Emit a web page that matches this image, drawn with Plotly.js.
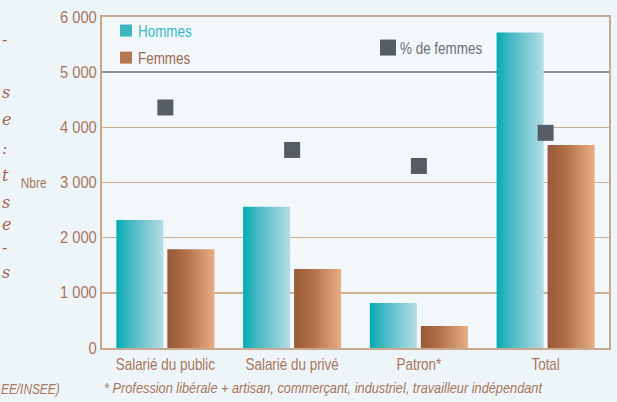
<!DOCTYPE html>
<html>
<head>
<meta charset="utf-8">
<script src="https://cdn.plot.ly/plotly-3.0.1.min.js"></script>
<style>
html,body{margin:0;padding:0;background:#eef5f8;}
#chart{width:617px;height:402px;}
</style>
</head>
<body>
<div id="chart"></div>
<script>
// ---- data ----
const categories = ['Salarié du public', 'Salarié du privé', 'Patron*', 'Total'];
const hommes = [2320, 2560, 815, 5720];
const femmes = [1790, 1430, 400, 3680];
const pctFemmes = [43.6, 35.9, 33.0, 39.0];
const yTickVals = [0, 1000, 2000, 3000, 4000, 5000, 6000];
const yTickText = ['0', '1 000', '2 000', '3 000', '4 000', '5 000', '6 000'];
const leftFragments = ['-', 's', 'e', ':', 't', 's', 'e', '-', 's'];
const leftFragmentY = [40, 93, 120, 148, 175, 202, 224, 247, 272];

const FONT = '"Liberation Sans", Arial, sans-serif';
const BROWN = '#a8765c';
const TEAL = '#35b8c4';
const GRAY = '#6b7178';

const plotTop = 17, plotBottom = 348, plotLeft = 102, plotRight = 609;
const plotH = plotBottom - plotTop, plotW = plotRight - plotLeft;
const px2x = p => (p - plotLeft) / plotW;
const px2y = p => (plotBottom - p) / plotH;

const data = [
  {
    type: 'bar', name: '<span style="color:' + TEAL + '">Hommes</span>',
    x: categories, y: hommes, marker: {color: '#3db6c0'},
    legend: 'legend', legendgroup: 'h'
  },
  {
    type: 'bar', name: '<span style="color:#9c6a52">Femmes</span>',
    x: categories, y: femmes, marker: {color: '#b77750'},
    legend: 'legend', legendgroup: 'f'
  },
  {
    type: 'scatter', mode: 'markers', name: '<span style="color:' + GRAY + '">% de femmes</span>',
    x: categories, y: pctFemmes, yaxis: 'y2',
    marker: {symbol: 'square', size: 16, color: '#565d64'},
    legend: 'legend2'
  }
];

const annotations = [
  {xref: 'paper', yref: 'y', x: px2x(48), y: 3000, xanchor: 'right', align: 'right', yanchor: 'middle',
   text: 'Nbre', showarrow: false, borderpad: 0, font: {family: FONT, size: 15, color: BROWN}},
  {xref: 'paper', yref: 'paper', x: px2x(103), y: px2y(388), xanchor: 'left', align: 'left', yanchor: 'middle',
   text: '* Profession libérale + artisan, commerçant, industriel, travailleur indépendant',
   showarrow: false, borderpad: 0, font: {family: FONT, size: 14.5, color: BROWN, style: 'italic'}},
  {xref: 'paper', yref: 'paper', x: px2x(0), y: px2y(388), xanchor: 'left', align: 'left', yanchor: 'middle',
   text: 'EE/INSEE)', showarrow: false, borderpad: 0, font: {family: FONT, size: 15, color: BROWN, style: 'italic'}}
];
leftFragments.forEach((t, i) => {
  annotations.push({xref: 'paper', yref: 'paper', x: px2x(1), y: px2y(leftFragmentY[i]),
    xanchor: 'left', yanchor: 'middle', text: t, showarrow: false, borderpad: 0,
    font: {family: '"DejaVu Serif", serif', size: 16, color: '#a0654a', style: 'italic'}});
});

const layout = {
  width: 617, height: 402,
  margin: {l: plotLeft, r: 617 - plotRight, t: plotTop, b: 402 - plotBottom, pad: 0},
  paper_bgcolor: '#eef5f8', plot_bgcolor: '#f2f8fa',
  font: {family: FONT, size: 16, color: BROWN},
  barmode: 'group', bargap: 0.195, bargroupgap: 0.078,
  xaxis: {
    showgrid: false, showline: true, linecolor: '#c9a98d', linewidth: 2, mirror: true,
    ticks: '', tickfont: {family: FONT, size: 17, color: BROWN}, fixedrange: true
  },
  yaxis: {
    range: [0, 6000], tickvals: yTickVals, ticktext: yTickText,
    showgrid: true, gridcolor: '#cfae90', gridwidth: 1.5,
    zeroline: false, showline: true, linecolor: '#c9a98d', linewidth: 2, mirror: true,
    ticks: '', ticklabelstandoff: 0,
    tickfont: {family: FONT, size: 16, color: BROWN}, fixedrange: true
  },
  yaxis2: {
    range: [0, 60], overlaying: 'y', side: 'right', fixedrange: true,
    showticklabels: false, ticks: '', showline: false, zeroline: false,
    tickvals: [50], showgrid: true, gridcolor: '#8795a0', gridwidth: 1.6
  },
  legend: {
    x: px2x(98), y: px2y(13), xanchor: 'left', yanchor: 'top',
    bgcolor: 'rgba(0,0,0,0)', font: {family: FONT, size: 17},
    traceorder: 'grouped', tracegroupgap: 2
  },
  legend2: {
    x: px2x(360), y: px2y(30), xanchor: 'left', yanchor: 'top',
    bgcolor: 'rgba(0,0,0,0)', font: {family: FONT, size: 17}
  },
  annotations: annotations,
  showlegend: true
};

Plotly.newPlot('chart', data, layout, {staticPlot: true, displayModeBar: false}).then(gd => {
  const ns = 'http://www.w3.org/2000/svg';
  const svg = gd.querySelector('.main-svg');
  let defs = svg.querySelector('defs');
  if (!defs) { defs = document.createElementNS(ns, 'defs'); svg.insertBefore(defs, svg.firstChild); }
  function addGrad(id, stops) {
    const g = document.createElementNS(ns, 'linearGradient');
    g.setAttribute('id', id);
    g.setAttribute('x1', '0'); g.setAttribute('x2', '1');
    g.setAttribute('y1', '0'); g.setAttribute('y2', '0');
    stops.forEach(([o, c]) => {
      const s = document.createElementNS(ns, 'stop');
      s.setAttribute('offset', o); s.setAttribute('stop-color', c);
      g.appendChild(s);
    });
    defs.appendChild(g);
  }
  addGrad('gradH', [['0', '#00acb3'], ['0.25', '#3db6c0'], ['1', '#b6dde7']]);
  addGrad('gradF', [['0', '#995838'], ['0.4', '#b27049'], ['1', '#e9ae83']]);
  const grads = ['url(#gradH)', 'url(#gradF)'];
  gd.querySelectorAll('.barlayer .trace').forEach((t, i) => {
    t.querySelectorAll('path').forEach(p => { p.style.fill = grads[i]; });
  });
  gd.querySelectorAll('path.legendbar').forEach((p, i) => {
    p.setAttribute('d', 'M8,8H-8V-8H8Z');
    p.style.fill = grads[i];
  });
  gd.querySelectorAll('.legend g.layers, .legend2 g.layers').forEach(g => {
    g.setAttribute('transform', 'translate(8,0)');
  });
  // condensed lettering, like the original's narrow typeface
  gd.querySelectorAll('text').forEach(t => {
    const ff = (t.style.fontFamily || '');
    if (ff.indexOf('Serif') >= 0) return;
    const len = t.getComputedTextLength();
    if (!(len > 0)) return;
    let f = 0.79;
    if (t.closest('.ytick')) f = 0.92;
    if (t.textContent.indexOf('Profession') >= 0) f = 0.88;
    t.setAttribute('textLength', (len * f).toFixed(2));
    t.setAttribute('lengthAdjust', 'spacingAndGlyphs');
  });
});
</script>
</body>
</html>
